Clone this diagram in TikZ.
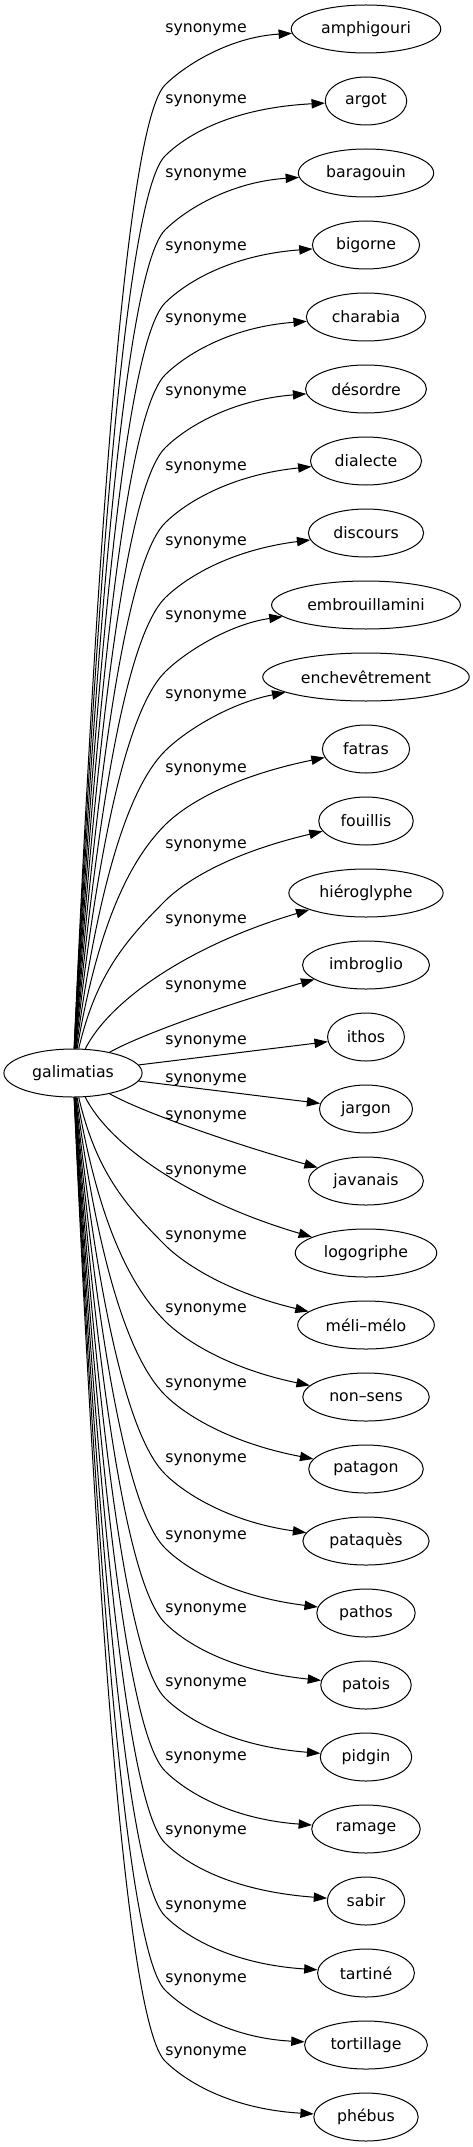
\documentclass[tikz,border=0pt]{standalone}
\usepackage{fontspec}
\setmainfont{DejaVu Sans}
\usetikzlibrary{arrows.meta,shapes.geometric}

\tikzset{
    syn/.style={draw, ellipse, line width=0.75pt, inner xsep=6pt, inner ysep=2pt,
        minimum height=36pt, minimum width=54pt, font=\fontsize{11.8}{14}\selectfont},
    lbl/.style={inner sep=0pt, font=\fontsize{11.8}{14}\selectfont},
    synarc/.style={-{Triangle[length=10pt,width=7pt]}, line width=0.75pt},
}

\begin{document}
\begin{tikzpicture}[x=0.75pt, y=-0.75pt]
        \useasboundingbox (0,0) rectangle (472,2147);

        % centre word
        \node[syn] (g) at (73,1073) {galimatias};

        % synonyms above the centre
        \foreach \n/\txt/\yl/\dk [count=\i] in {amphigouri/amphigouri/30/56, argot/argot/101/55, baragouin/baragouin/175/57, bigorne/bigorne/248/58, charabia/charabia/320/58, desordre/désordre/393/59, dialecte/dialecte/468/62, discours/discours/543/65, embrouillamini/embrouillamini/617/67, enchevetrement/enchevêtrement/696/74, fatras/fatras/770/76, fouillis/fouillis/846/80} {
            \pgfmathsetmacro\yn{29+72*(\i-1)}
            \pgfmathsetmacro\yk{\yn+\dk}
            \pgfmathsetmacro\arm{min(40,(1049-\yk)/3)}
            \node[syn] (\n) at (366,\yn) {\txt};
            \node[lbl] (l\n) at (206,\yl) {synonyme};
            \draw[synarc] (g) .. controls (96,{(1049+\yk)/2}) and ({165-\arm},{\yk+\arm}) .. (165,\yk)
                .. controls (185,\yk-20) and (230,\yk-48) .. (\n);
        }

        % the ones close to the centre
        \node[syn] (hieroglyphe) at (366,893) {hiéroglyphe};
        \node[lbl] (lhieroglyphe) at (206,921) {synonyme};
        \draw[synarc] (g) .. controls (110,1000) and (190,945) .. (hieroglyphe);

        \node[syn] (imbroglio) at (366,965) {imbroglio};
        \node[lbl] (limbroglio) at (206,987) {synonyme};
        \draw[synarc] (g) .. controls (140,1035) and (230,1003) .. (imbroglio);

        \node[syn] (ithos) at (366,1037) {ithos};
        \node[lbl] (lithos) at (206,1042) {synonyme};
        \draw[synarc] (g) -- (ithos);

        \node[syn] (jargon) at (366,1109) {jargon};
        \node[lbl] (ljargon) at (206,1080) {synonyme};
        \draw[synarc] (g) -- (jargon);

        \node[syn] (javanais) at (366,1181) {javanais};
        \node[lbl] (ljavanais) at (206,1117) {synonyme};
        \draw[synarc] (g) .. controls (140,1111) and (230,1143) .. (javanais);

        \node[syn] (logogriphe) at (366,1253) {logogriphe};
        \node[lbl] (llogogriphe) at (206,1172) {synonyme};
        \draw[synarc] (g) .. controls (110,1146) and (190,1201) .. (logogriphe);

        % synonyms below the centre
        \foreach \n/\txt/\yl/\dk [count=\i] in {melimelo/méli–mélo/1237/80, nonsens/non–sens/1310/76, patagon/patagon/1385/74, pataques/pataquès/1460/67, pathos/pathos/1537/65, patois/patois/1610/62, pidgin/pidgin/1684/59, ramage/ramage/1758/58, sabir/sabir/1832/58, tartine/tartiné/1907/57, tortillage/tortillage/1980/55, phebus/phébus/2053/56} {
            \pgfmathsetmacro\yn{29+72*(\i+17)}
            \pgfmathsetmacro\yk{\yn-\dk}
            \pgfmathsetmacro\arm{min(40,(\yk-1097)/3)}
            \node[syn] (\n) at (366,\yn) {\txt};
            \node[lbl] (l\n) at (206,\yl) {synonyme};
            \draw[synarc] (g) .. controls (96,{(1097+\yk)/2}) and ({165-\arm},{\yk-\arm}) .. (165,\yk)
                .. controls (185,\yk+20) and (230,\yk+48) .. (\n);
        }

\end{tikzpicture}
\end{document}
